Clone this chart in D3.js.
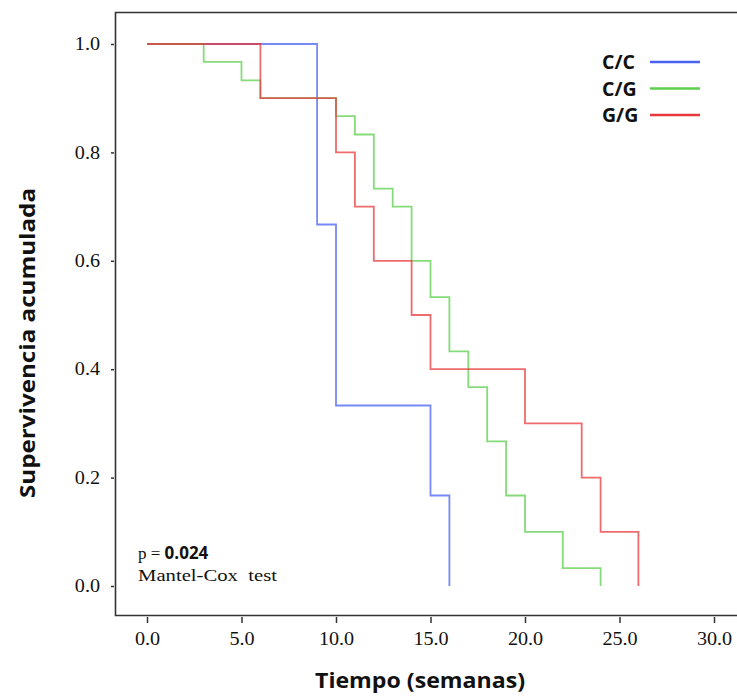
<!DOCTYPE html>
<html><head><meta charset="utf-8">
<script src="https://cdn.jsdelivr.net/npm/d3@7"></script>
<style>body{margin:0;background:#fff}svg{display:block}</style>
</head><body>
<svg id="c" width="737" height="696"></svg>
<script>
const groups = ["C/C", "C/G", "G/G"];
const colors = ["#4a62f2", "#5ccf4c", "#e8383c"];
const timesCC = [0, 9, 10, 15, 16];
const survCC  = [1.0, 0.667, 0.333, 0.167, 0.0];
const timesCG = [0, 3, 5, 6, 10, 11, 12, 13, 14, 15, 16, 17, 18, 19, 20, 22, 24];
const survCG  = [1.0, 0.967, 0.933, 0.9, 0.867, 0.833, 0.733, 0.7, 0.6, 0.533, 0.433, 0.367, 0.267, 0.167, 0.1, 0.033, 0.0];
const timesGG = [0, 6, 10, 11, 12, 14, 15, 20, 23, 24, 26];
const survGG  = [1.0, 0.9, 0.8, 0.7, 0.6, 0.5, 0.4, 0.3, 0.2, 0.1, 0.0];
const xTicks = [0, 5, 10, 15, 20, 25, 30];
const yTicks = [0, 0.2, 0.4, 0.6, 0.8, 1.0];

const series = [[timesCC, survCC], [timesCG, survCG], [timesGG, survGG]];

const svg = d3.select("#c");
const x = d3.scaleLinear().domain([0, 30]).range([147, 714]);
const y = d3.scaleLinear().domain([0, 1]).range([586, 44]);

// frame
svg.append("path").attr("d", "M740,12.5 H115.5 V615.5 H740")
  .attr("fill", "none").attr("stroke", "#333").attr("stroke-width", 1.6);

function stretch(sel) {
  sel.each(function () {
    const w = this.getComputedTextLength();
    d3.select(this).attr("textLength", w * 1.12).attr("lengthAdjust", "spacingAndGlyphs");
  });
}

// y axis
const yAxis = svg.append("g").attr("transform", "translate(114,0)")
  .call(d3.axisLeft(y).tickValues(yTicks).tickFormat(d3.format(".1f")).tickSize(3).tickPadding(11));
yAxis.select(".domain").remove();
yAxis.selectAll("line").attr("stroke", "#333").attr("stroke-width", 1.5);
yAxis.selectAll("text").attr("font-family", "Liberation Serif").attr("font-size", 18).attr("fill", "#111").call(stretch);

// x axis
const xAxis = svg.append("g").attr("transform", "translate(0,617)")
  .call(d3.axisBottom(x).tickValues(xTicks).tickFormat(d3.format(".1f")).tickSize(6).tickPadding(9));
xAxis.select(".domain").remove();
xAxis.selectAll("line").attr("stroke", "#333").attr("stroke-width", 1.5);
xAxis.selectAll("text").attr("font-family", "Liberation Serif").attr("font-size", 18).attr("fill", "#111").call(stretch);

// curves
const line = d3.line().x(d => x(d[0])).y(d => y(d[1])).curve(d3.curveStepAfter);
series.forEach((s, i) => {
  const pts = s[0].map((t, j) => [t, s[1][j]]);
  svg.append("path").datum(pts).attr("d", line)
    .attr("fill", "none").attr("stroke", colors[i]).attr("stroke-width", 1.8)
    .attr("stroke-opacity", 0.75);
});

// axis titles
svg.append("text").attr("x", 315).attr("y", 688)
  .attr("font-family", "Open Sans").attr("font-weight", "bold").attr("font-size", 21)
  .attr("textLength", 210).attr("lengthAdjust", "spacingAndGlyphs")
  .attr("fill", "#111").text("Tiempo (semanas)");
svg.append("text").attr("transform", "translate(35,498) rotate(-90)")
  .attr("font-family", "Open Sans").attr("font-weight", "bold").attr("font-size", 21)
  .attr("textLength", 310).attr("lengthAdjust", "spacingAndGlyphs")
  .attr("fill", "#111").text("Supervivencia acumulada");

// legend
groups.forEach((g, i) => {
  const yy = 62 + i * 26.5;
  svg.append("text").attr("x", 602).attr("y", yy + 7).attr("font-family", "Open Sans")
    .attr("font-weight", "bold").attr("font-size", 19.5).attr("fill", "#111").text(g);
  svg.append("line").attr("x1", 650).attr("x2", 700).attr("y1", yy).attr("y2", yy)
    .attr("stroke", colors[i]).attr("stroke-width", 2.5);
});

// p value annotation
const pt = svg.append("text").attr("x", 138).attr("y", 559).attr("font-size", 17).attr("fill", "#111");
pt.append("tspan").attr("font-family", "Liberation Serif").text("p = ");
pt.append("tspan").attr("font-family", "Open Sans").attr("font-weight", "bold").attr("font-size", 17).text("0.024");
svg.append("text").attr("x", 138).attr("y", 581).attr("font-family", "Liberation Serif")
  .attr("font-size", 17).attr("fill", "#111").attr("xml:space", "preserve")
  .attr("textLength", 139).attr("lengthAdjust", "spacingAndGlyphs").text("Mantel-Cox  test");
</script>
</body></html>
